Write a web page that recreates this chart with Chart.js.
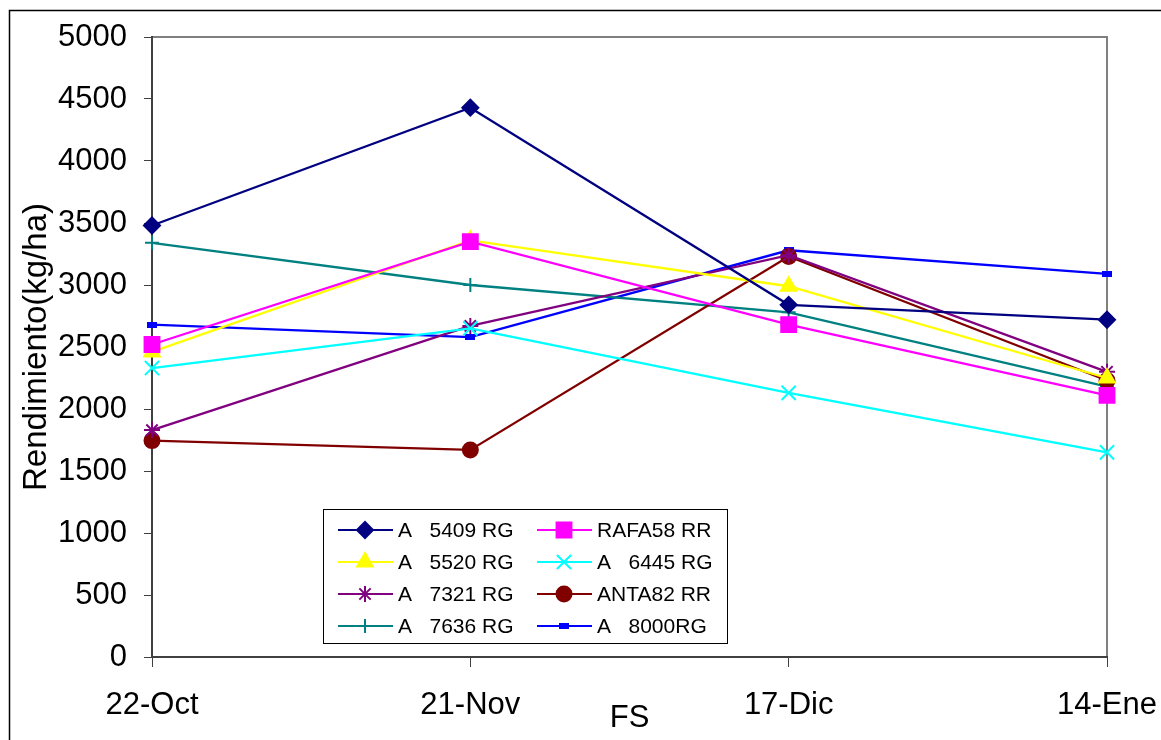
<!DOCTYPE html>
<html>
<head>
<meta charset="utf-8">
<script src="https://cdn.jsdelivr.net/npm/chart.js@4/dist/chart.umd.min.js"></script>
<style>
  html, body { margin: 0; padding: 0; background: #fff; }
  #wrap { width: 1161px; height: 740px; position: relative; }
</style>
</head>
<body>
<div id="wrap"><canvas id="rendGraph" width="1161" height="740"></canvas></div>
<script>
// fechas de siembra
var fechas = ['22-Oct', '21-Nov', '17-Dic', '14-Ene'];

var a5409 = [3480, 4430, 2840, 2720];
var rafa58 = [2520, 3350, 2680, 2110];
var a5520 = [2460, 3360, 2990, 2250];
var a6445 = [2330, 2650, 2130, 1650];
var a7321 = [1830, 2670, 3240, 2300];
var anta82 = [1745, 1670, 3230, 2230];
var a7636 = [3340, 3000, 2780, 2180];
var a8000 = [2680, 2580, 3280, 3090];

var yTicks = [0, 500, 1000, 1500, 2000, 2500, 3000, 3500, 4000, 4500, 5000];

// small flat marker used for "A 8000RG"
var dash = document.createElement('canvas');
dash.width = 10; dash.height = 6;
var dctx = dash.getContext('2d');
dctx.fillStyle = '#0000FF';
dctx.fillRect(0, 0, 10, 6);

function serie(label, data, color, style, radius) {
    return {
        label: label,
        data: data,
        borderColor: color,
        backgroundColor: color,
        pointBackgroundColor: color,
        pointBorderColor: color,
        pointStyle: style,
        pointRadius: radius,
        pointBorderWidth: 2,
        borderWidth: 2.3,
        tension: 0
    };
}

var legendPlugin = {
    id: 'excelLegend',
    beforeDraw: function(chart) {
        var ctx = chart.ctx, a = chart.chartArea;
        ctx.save();
        ctx.fillStyle = '#fff';
        ctx.fillRect(0, 0, chart.width, chart.height);
        // outer frame
        ctx.strokeStyle = '#000';
        ctx.lineWidth = 1.5;
        ctx.strokeRect(9.5, 10.5, 1200, 800);
        // plot area frame
        ctx.strokeStyle = '#808080';
        ctx.lineWidth = 2;
        ctx.strokeRect(a.left, a.top, a.right - a.left, a.bottom - a.top);
        ctx.restore();
    },
    afterDraw: function(chart) {
        var ctx = chart.ctx;
        var bx = 323, by = 509, bw = 404, bh = 134;
        ctx.save();
        ctx.fillStyle = '#fff';
        ctx.fillRect(bx, by, bw, bh);
        ctx.strokeStyle = '#000';
        ctx.lineWidth = 1;
        ctx.strokeRect(bx + 0.5, by + 0.5, bw, bh);
        ctx.font = '21px "Liberation Sans", Arial, sans-serif';
        ctx.textBaseline = 'middle';
        chart.data.datasets.forEach(function(ds, i) {
            var col = i % 2, row = Math.floor(i / 2);
            var x0 = col === 0 ? 338 : 537;
            var y = 530 + row * 32;
            ctx.strokeStyle = ds.borderColor;
            ctx.lineWidth = 2;
            ctx.beginPath();
            ctx.moveTo(x0, y);
            ctx.lineTo(x0 + 55, y);
            ctx.stroke();
            ctx.fillStyle = ds.backgroundColor;
            Chart.helpers.drawPoint(ctx, {
                pointStyle: ds.pointStyle,
                radius: ds.pointRadius,
                borderWidth: 2,
                rotation: 0
            }, x0 + 27, y);
            ctx.fillStyle = '#000';
            ctx.fillText(ds.label, x0 + 60, y + 1);
        });
        ctx.restore();
    }
};

var font = '"Liberation Sans", Arial, sans-serif';

new Chart(document.getElementById('rendGraph').getContext('2d'), {
    type: 'line',
    data: {
        labels: fechas,
        datasets: [
            serie('A   5409 RG', a5409, '#000080', 'rectRot', 8),
            serie('RAFA58 RR', rafa58, '#FF00FF', 'rect', 10.5),
            serie('A   5520 RG', a5520, '#FFFF00', 'triangle', 9),
            serie('A   6445 RG', a6445, '#00FFFF', 'crossRot', 10),
            serie('A   7321 RG', a7321, '#800080', 'star', 8),
            serie('ANTA82 RR', anta82, '#800000', 'circle', 7.5),
            serie('A   7636 RG', a7636, '#008080', 'cross', 7),
            serie('A   8000RG', a8000, '#0000FF', dash, 5)
        ]
    },
    options: {
        responsive: false,
        animation: false,
        layout: { padding: { left: 0, top: 37, right: 54, bottom: 0 } },
        plugins: {
            legend: { display: false },
            tooltip: { enabled: false }
        },
        scales: {
            x: {
                type: 'category',
                offset: false,
                grid: { drawOnChartArea: false, tickLength: 10, color: '#404040', lineWidth: 1 },
                border: { color: '#404040', width: 2 },
                ticks: { color: '#000', font: { family: font, size: 31 }, padding: 20, maxRotation: 0 },
                title: { display: true, text: 'FS', color: '#000', font: { family: font, size: 31 }, padding: { top: 0, bottom: 3 } },
                afterFit: function(s) { s.height = 83; s.paddingLeft = 0; s.paddingRight = 0; }
            },
            y: {
                min: 0,
                max: 5000,
                afterBuildTicks: function(s) { s.ticks = yTicks.map(function(v) { return { value: v }; }); },
                grid: { drawOnChartArea: false, tickLength: 8, color: '#404040', lineWidth: 1 },
                border: { color: '#404040', width: 2 },
                ticks: {
                    color: '#000',
                    font: { family: font, size: 31 },
                    padding: 17,
                    callback: function(v) { return String(v); }
                },
                title: { display: true, text: 'Rendimiento(kg/ha)', color: '#000', font: { family: font, size: 33 }, padding: { top: 17, bottom: 0 } },
                afterFit: function(s) { s.width = 152; s.paddingTop = 0; s.paddingBottom = 0; }
            }
        }
    },
    plugins: [legendPlugin]
});
</script>
</body>
</html>
